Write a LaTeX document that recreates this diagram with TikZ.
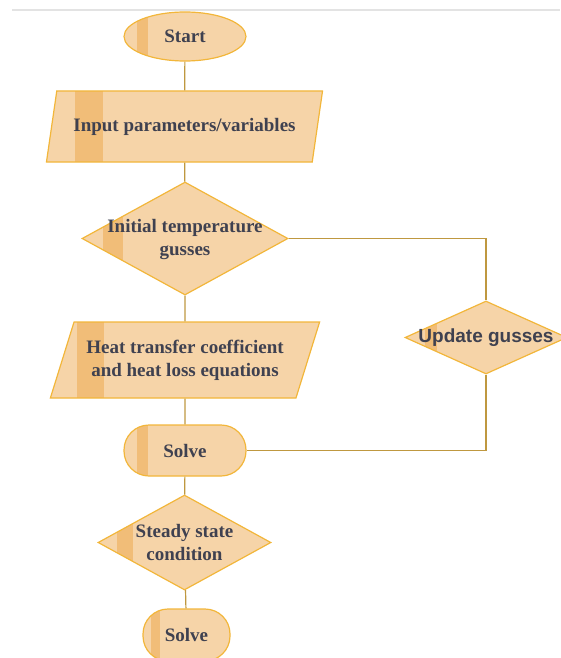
\documentclass[tikz,border=0pt]{standalone}
\usepackage{fontspec}
\setmainfont{Liberation Serif}
\newfontfamily\updfont{Liberation Sans}
\usetikzlibrary{shapes.geometric}
\definecolor{boxfill}{HTML}{F6D4A8}
\definecolor{bandfill}{HTML}{F1BD78}
\definecolor{boxline}{HTML}{F2B63A}
\definecolor{wirecol}{HTML}{BF9840}
\definecolor{ink}{HTML}{3F4150}
\definecolor{rulecol}{HTML}{E3E3E3}

\begin{document}
\begin{tikzpicture}[x=1pt, y=-1pt,
  box/.style={draw=boxline, fill=boxfill, line width=1.2pt, inner sep=0pt, text=ink, font=\fontsize{19}{23}\selectfont\bfseries, align=center},
  band/.style 2 args={path picture={\fill[bandfill, sharp corners] ([xshift=#1pt]path picture bounding box.south west) rectangle ([xshift=#2pt]path picture bounding box.north west);}},
  term/.style={box, ellipse, minimum width=122pt, minimum height=49pt},
  proc/.style={box, rectangle, rounded corners=25pt, minimum height=51pt},
  io/.style={box, trapezium, trapezium left angle=62.5, trapezium right angle=117.5, trapezium stretches=true},
  dec/.style={box, diamond},
  txt/.style={text=ink, font=\fontsize{19}{23}\selectfont\bfseries, align=center, inner sep=0pt},
  wire/.style={draw=wirecol, line width=1.2pt}]
  \useasboundingbox (0,0) rectangle (560,658);
  % top rule
  \draw[rulecol, line width=1.5pt] (12,10) -- (560,10);
  % nodes
  \node[term, band={13}{24}] (start) at (185,36.5) {Start};
  \node[io, minimum width=277pt, minimum height=71pt, band={29}{57}] (input) at (184.5,126.5) {Input parameters/variables};
  \node[dec, minimum width=206pt, minimum height=113pt, band={21}{41}, label={[txt, yshift=-1.5pt]center:Initial temperature\\gusses}] (guess) at (185,238.5) {};
  \node[io, minimum width=270pt, minimum height=76pt, band={27}{54}] (coef) at (185,360) {Heat transfer coefficient\\and heat loss equations};
  \node[proc, minimum width=122pt, band={13}{24}] (solve) at (185,450.5) {Solve};
  \node[dec, minimum width=173pt, minimum height=95pt, band={19}{35}, label={[txt]center:Steady state\\condition}] (steady) at (184.5,542.5) {};
  \node[proc, minimum width=87pt, minimum height=52pt, band={8}{17}] (done) at (186.5,635) {Solve};
  \node[dec, minimum width=162pt, minimum height=73pt, band={20}{32}, label={[txt, font=\updfont\fontsize{19}{23}\selectfont\bfseries]center:Update gusses}] (update) at (486,337.5) {};
  % edges
  \draw[wire] (start) -- (input);
  \draw[wire] (input) -- (guess);
  \draw[wire] (guess) -- (coef);
  \draw[wire] (coef) -- (solve);
  \draw[wire] (solve) -- (steady);
  \draw[wire] (steady) -- (done);
  \draw[wire] (guess.east) -| (update.north);
  \draw[wire] (update.south) |- (solve.east);
\end{tikzpicture}
\end{document}
